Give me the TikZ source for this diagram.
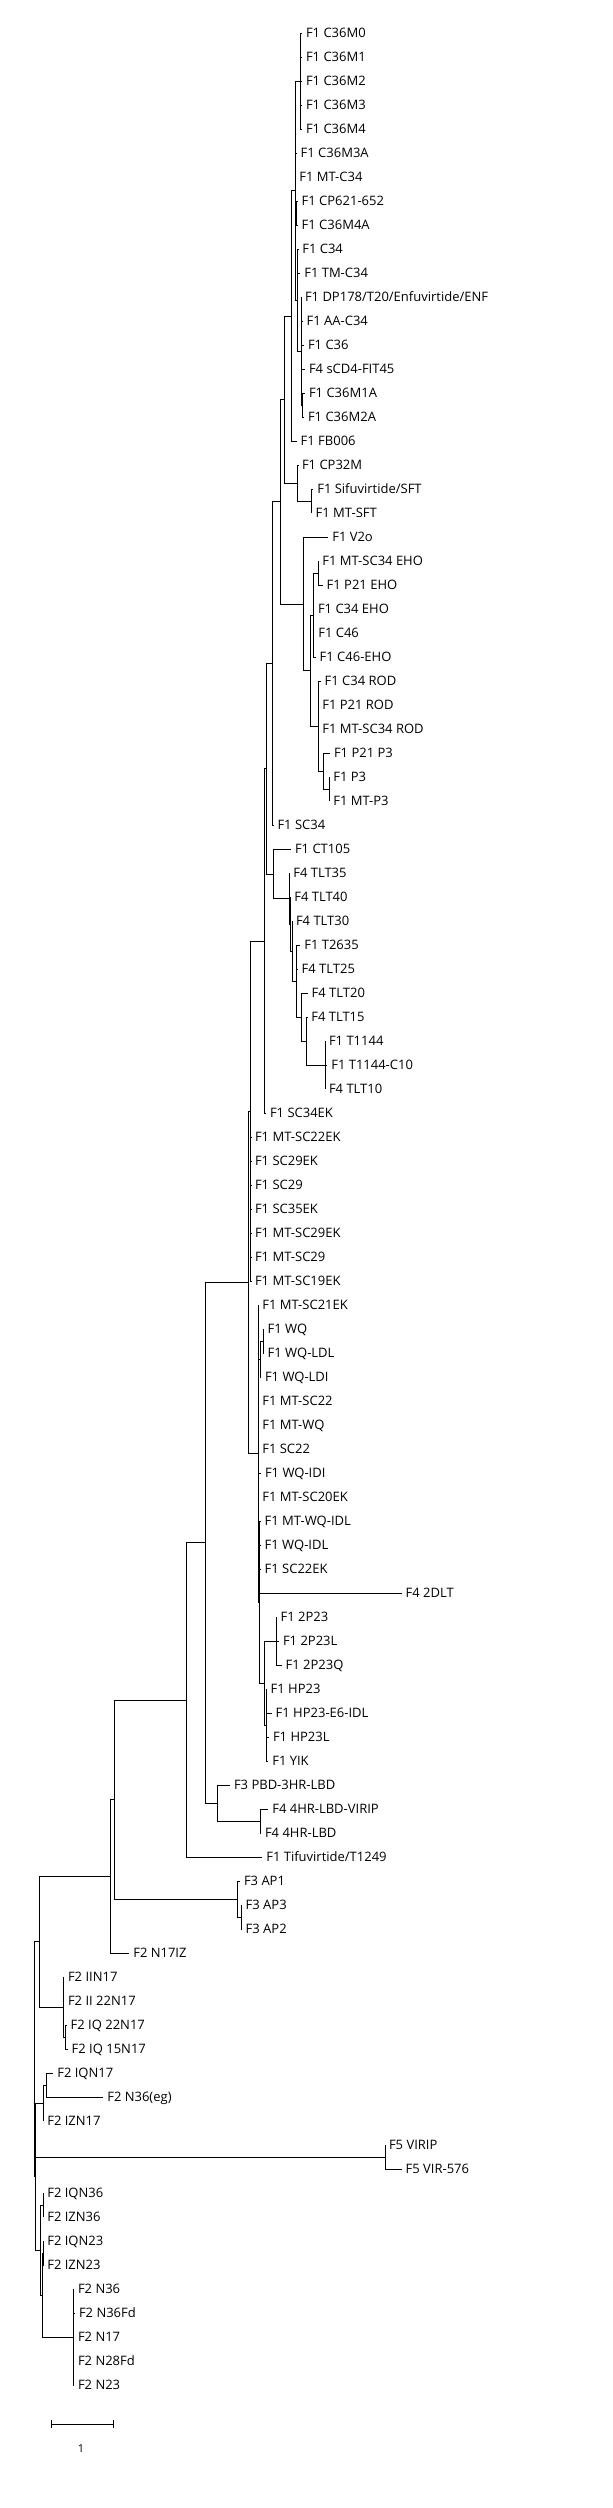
\documentclass[tikz,border=0pt]{standalone}
\usepackage{fontspec}
\newfontfamily\treefont{Open Sans}
\usepackage{tikz}
\tikzset{
  leaf/.style={anchor=west, inner xsep=2.8pt, inner ysep=0pt, text height=6.96pt, text depth=0pt, font=\treefont\fontsize{9.75}{11}\selectfont},
  branch/.style={line width=0.75pt}
}
\begin{document}
\begin{tikzpicture}[x=0.75pt,y=0.75pt,yscale=-1,xscale=1]
%set diagram to the size of the page
\useasboundingbox (0,0) rectangle (612,2508);

%Inner nodes [F1 C34/C36 group]
\coordinate (nM04) at (300.7,81.3);
\coordinate (nCP) at (296.7,213.3);
\coordinate (nM1A) at (302.3,405.3);
\coordinate (nC36) at (301,351.3);
\coordinate (nC34) at (297.7,300.3);
\coordinate (nMT) at (295.3,190.8);
\coordinate (nFB) at (291.7,316);
\coordinate (nSFT) at (311.7,501.3);
\coordinate (nCP32) at (297.7,483.3);
\coordinate (nC34a) at (284,399.7);
\coordinate (nEHOa) at (318.3,573.3);
\coordinate (nEHO) at (313.3,615.3);
\coordinate (nP3a) at (329.3,789.3);
\coordinate (nP3) at (323.3,771.3);
\coordinate (nROD) at (318.3,726.3);
\coordinate (nEHOROD) at (310.7,670.8);
\coordinate (nV2o) at (303.3,604);
\coordinate (nC34b) at (280,501.8);
\coordinate (nSC34) at (272.7,663.6);
%Inner nodes [TLT group]
\coordinate (nT1144) at (325,1065.3);
\coordinate (nTLT15) at (306.7,1041.3);
\coordinate (nTLT20) at (301,1017.3);
\coordinate (nT2635) at (296.7,981.3);
\coordinate (nTLT30) at (292,951.3);
\coordinate (nTLT40) at (290.3,924.3);
\coordinate (nTLT35) at (289.3,898.8);
\coordinate (nCT105) at (273.3,874);
\coordinate (nTLT) at (266,768.8);
\coordinate (nSC34EK) at (264,941);
%Inner nodes [SC / WQ / P23 group]
\coordinate (nSC29) at (250.7,1111.2);
\coordinate (nWQa) at (263.3,1341.3);
\coordinate (nWQ) at (260,1359.3);
\coordinate (n2P23) at (276,1641.3);
\coordinate (nHP23) at (266,1725.3);
\coordinate (nP23) at (264.3,1683.3);
\coordinate (nIDL) at (259.7,1602.3);
\coordinate (nSC22) at (258.3,1453.8);
\coordinate (nSC) at (248.3,1282.5);
%Inner nodes [lower part]
\coordinate (nLBD) at (260,1821.3);
\coordinate (nHR) at (217.3,1803.3);
\coordinate (nF1) at (205.7,1542.9);
\coordinate (nT1249) at (186.7,1700.1);
\coordinate (nAP3) at (241,1917.3);
\coordinate (nAP) at (237.7,1899.3);
\coordinate (nF13) at (114.7,1799.7);
\coordinate (nN17IZ) at (110,1876.5);
\coordinate (nIQ) at (65,2037.3);
\coordinate (nII) at (63.3,2007.3);
\coordinate (nF2a) at (39,1941.9);
\coordinate (nIQN17) at (46.7,2085.3);
\coordinate (nIZN17) at (43.3,2103.3);
\coordinate (nF5) at (385,2157.3);
\coordinate (nN36) at (43.3,2205.3);
\coordinate (nN23) at (43,2253.3);
\coordinate (nN) at (73.3,2337.3);
\coordinate (nNb) at (42,2295.3);
\coordinate (nNa) at (40,2250.3);
\coordinate (nF2b) at (35,2176.8);
\coordinate (nRoot) at (34.3,2059.4);

% Text Node
\node [leaf] (c36m0) at (302,33.3) {F1 C36M0};
\node [leaf] (c36m1) at (302,57.3) {F1 C36M1};
\node [leaf] (c36m2) at (302,81.3) {F1 C36M2};
\node [leaf] (c36m3) at (302,105.3) {F1 C36M3};
\node [leaf] (c36m4) at (302,129.3) {F1 C36M4};
\node [leaf] (c36m3a) at (296.7,153.3) {F1 C36M3A};
\node [leaf] (mtc34) at (295.3,177.3) {F1 MT-C34};
\node [leaf] (cp621) at (297.7,201.3) {F1 CP621-652};
\node [leaf] (c36m4a) at (297.7,225.3) {F1 C36M4A};
\node [leaf] (c34) at (298.3,249.3) {F1 C34};
\node [leaf] (tmc34) at (300.3,273.3) {F1 TM-C34};
\node [leaf] (dp178) at (301,297.3) {F1 DP178/T20/Enfuvirtide/ENF};
\node [leaf] (aac34) at (302.7,321.3) {F1 AA-C34};
\node [leaf] (c36) at (304,345.3) {F1 C36};
\node [leaf] (scd4) at (305,369.3) {F4 sCD4-FIT45};
\node [leaf] (c36m1a) at (305,393.3) {F1 C36M1A};
\node [leaf] (c36m2a) at (304,417.3) {F1 C36M2A};
\node [leaf] (fb006) at (296.7,441.3) {F1 FB006};
\node [leaf] (cp32m) at (298,465.3) {F1 CP32M};
\node [leaf] (sft) at (313.3,489.3) {F1 Sifuvirtide/SFT};
\node [leaf] (mtsft) at (311.7,513.3) {F1 MT-SFT};
\node [leaf] (v2o) at (328.3,537.3) {F1 V2o};
\node [leaf] (mtsc34eho) at (318.3,561.3) {F1 MT-SC34 EHO};
\node [leaf] (p21eho) at (322.7,585.3) {F1 P21 EHO};
\node [leaf] (c34eho) at (314,609.3) {F1 C34 EHO};
\node [leaf] (c46) at (314.3,633.3) {F1 C46};
\node [leaf] (c46eho) at (315.7,657.3) {F1 C46-EHO};
\node [leaf] (c34rod) at (320.7,681.3) {F1 C34 ROD};
\node [leaf] (p21rod) at (318.3,705.3) {F1 P21 ROD};
\node [leaf] (mtsc34rod) at (318.3,729.3) {F1 MT-SC34 ROD};
\node [leaf] (p21p3) at (330,753.3) {F1 P21 P3};
\node [leaf] (p3) at (329.3,777.3) {F1 P3};
\node [leaf] (mtp3) at (329.3,801.3) {F1 MT-P3};
\node [leaf] (sc34) at (273.5,825.3) {F1 SC34};
\node [leaf] (ct105) at (291,849.3) {F1 CT105};
\node [leaf] (tlt35) at (289.3,873.3) {F4 TLT35};
\node [leaf] (tlt40) at (290.3,897.3) {F4 TLT40};
\node [leaf] (tlt30) at (292,921.3) {F4 TLT30};
\node [leaf] (t2635) at (300.3,945.3) {F1 T2635};
\node [leaf] (tlt25) at (297.7,969.3) {F4 TLT25};
\node [leaf] (tlt20) at (307.7,993.3) {F4 TLT20};
\node [leaf] (tlt15) at (307.3,1017.3) {F4 TLT15};
\node [leaf] (t1144) at (325,1041.3) {F1 T1144};
\node [leaf] (t1144c10) at (327.3,1065.3) {F1 T1144-C10};
\node [leaf] (tlt10) at (325,1089.3) {F4 TLT10};
\node [leaf] (sc34ek) at (266,1113.3) {F1 SC34EK};
\node [leaf] (mtsc22ek) at (251,1137.3) {F1 MT-SC22EK};
\node [leaf] (sc29ek) at (251,1161.3) {F1 SC29EK};
\node [leaf] (sc29) at (251,1185.3) {F1 SC29};
\node [leaf] (sc35ek) at (251,1209.3) {F1 SC35EK};
\node [leaf] (mtsc29ek) at (251,1233.3) {F1 MT-SC29EK};
\node [leaf] (mtsc29) at (251,1257.3) {F1 MT-SC29};
\node [leaf] (mtsc19ek) at (251,1281.3) {F1 MT-SC19EK};
\node [leaf] (mtsc21ek) at (258.3,1305.3) {F1 MT-SC21EK};
\node [leaf] (wq) at (263.7,1329.3) {F1 WQ};
\node [leaf] (wqldl) at (263.7,1353.3) {F1 WQ-LDL};
\node [leaf] (wqldi) at (261,1377.3) {F1 WQ-LDI};
\node [leaf] (mtsc22) at (258.3,1401.3) {F1 MT-SC22};
\node [leaf] (mtwq) at (258.3,1425.3) {F1 MT-WQ};
\node [leaf] (sc22) at (258.3,1449.3) {F1 SC22};
\node [leaf] (wqidi) at (261,1473.3) {F1 WQ-IDI};
\node [leaf] (mtsc20ek) at (258.3,1497.3) {F1 MT-SC20EK};
\node [leaf] (mtwqidl) at (260.7,1521.3) {F1 MT-WQ-IDL};
\node [leaf] (wqidl) at (260.7,1545.3) {F1 WQ-IDL};
\node [leaf] (sc22ek) at (260.7,1569.3) {F1 SC22EK};
\node [leaf] (dlt) at (401.7,1593.3) {F4 2DLT};
\node [leaf] (p23) at (276.7,1617.3) {F1 2P23};
\node [leaf] (p23l) at (279,1641.3) {F1 2P23L};
\node [leaf] (p23q) at (281.7,1665.3) {F1 2P23Q};
\node [leaf] (hp23) at (266.7,1689.3) {F1 HP23};
\node [leaf] (hp23e6) at (271.7,1713.3) {F1 HP23-E6-IDL};
\node [leaf] (hp23l) at (269,1737.3) {F1 HP23L};
\node [leaf] (yik) at (268.3,1761.3) {F1 YIK};
\node [leaf] (pbd) at (230,1785.3) {F3 PBD-3HR-LBD};
\node [leaf] (lbdvirip) at (268.3,1809.3) {F4 4HR-LBD-VIRIP};
\node [leaf] (lbd) at (261,1833.3) {F4 4HR-LBD};
\node [leaf] (t1249) at (262.3,1857.3) {F1 Tifuvirtide/T1249};
\node [leaf] (ap1) at (240,1881.3) {F3 AP1};
\node [leaf] (ap3) at (241.7,1905.3) {F3 AP3};
\node [leaf] (ap2) at (241.7,1929.3) {F3 AP2};
\node [leaf] (n17iz) at (129.3,1953.3) {F2 N17IZ};
\node [leaf] (iin17) at (64,1977.3) {F2 IIN17};
\node [leaf] (ii22n17) at (64,2001.3) {F2 II 22N17};
\node [leaf] (iq22n17) at (66.7,2025.3) {F2 IQ 22N17};
\node [leaf] (iq15n17) at (67.7,2049.3) {F2 IQ 15N17};
\node [leaf] (iqn17) at (53.3,2073.3) {F2 IQN17};
\node [leaf] (n36eg) at (103.3,2097.3) {F2 N36(eg)};
\node [leaf] (izn17) at (43.3,2121.3) {F2 IZN17};
\node [leaf] (virip) at (385,2145.3) {F5 VIRIP};
\node [leaf] (vir576) at (401.7,2169.3) {F5 VIR-576};
\node [leaf] (iqn36) at (43.3,2193.3) {F2 IQN36};
\node [leaf] (izn36) at (43.3,2217.3) {F2 IZN36};
\node [leaf] (iqn23) at (43.3,2241.3) {F2 IQN23};
\node [leaf] (izn23) at (43.3,2265.3) {F2 IZN23};
\node [leaf] (n36) at (74,2289.3) {F2 N36};
\node [leaf] (n36fd) at (75,2313.3) {F2 N36Fd};
\node [leaf] (n17) at (74,2337.3) {F2 N17};
\node [leaf] (n28fd) at (74,2361.3) {F2 N28Fd};
\node [leaf] (n23) at (74,2385.3) {F2 N23};

%Straight Lines [F1 C34/C36 group]
\draw [branch] (nM04) |- (c36m0.west) (nM04) |- (c36m1.west) (nM04) |- (c36m2.west) (nM04) |- (c36m3.west) (nM04) |- (c36m4.west);
\draw [branch] (nCP) |- (cp621.west) (nCP) |- (c36m4a.west);
\draw [branch] (nM1A) |- (c36m1a.west) (nM1A) |- (c36m2a.west);
\draw [branch] (nC36) |- (dp178.west) (nC36) |- (aac34.west) (nC36) |- (c36.west) (nC36) |- (scd4.west) (nC36) |- (nM1A);
\draw [branch] (nC34) |- (c34.west) (nC34) |- (tmc34.west) (nC34) |- (nC36);
\draw [branch] (nMT) |- (nM04) (nMT) |- (c36m3a.west) (nMT) |- (mtc34.west) (nMT) |- (nCP) (nMT) |- (nC34);
\draw [branch] (nFB) |- (nMT) (nFB) |- (fb006.west);
\draw [branch] (nSFT) |- (sft.west) (nSFT) |- (mtsft.west);
\draw [branch] (nCP32) |- (cp32m.west) (nCP32) |- (nSFT);
\draw [branch] (nC34a) |- (nFB) (nC34a) |- (nCP32);
\draw [branch] (nEHOa) |- (mtsc34eho.west) (nEHOa) |- (p21eho.west);
\draw [branch] (nEHO) |- (nEHOa) (nEHO) |- (c34eho.west) (nEHO) |- (c46.west) (nEHO) |- (c46eho.west);
\draw [branch] (nP3a) |- (p3.west) (nP3a) |- (mtp3.west);
\draw [branch] (nP3) |- (p21p3.west) (nP3) |- (nP3a);
\draw [branch] (nROD) |- (c34rod.west) (nROD) |- (p21rod.west) (nROD) |- (mtsc34rod.west) (nROD) |- (nP3);
\draw [branch] (nEHOROD) |- (nEHO) (nEHOROD) |- (nROD);
\draw [branch] (nV2o) |- (v2o.west) (nV2o) |- (nEHOROD);
\draw [branch] (nC34b) |- (nC34a) (nC34b) |- (nV2o);
\draw [branch] (nSC34) |- (nC34b) (nSC34) |- (sc34.west);
%Straight Lines [TLT group]
\draw [branch] (nT1144) |- (t1144.west) (nT1144) |- (t1144c10.west) (nT1144) |- (tlt10.west);
\draw [branch] (nTLT15) |- (tlt15.west) (nTLT15) |- (nT1144);
\draw [branch] (nTLT20) |- (tlt20.west) (nTLT20) |- (nTLT15);
\draw [branch] (nT2635) |- (t2635.west) (nT2635) |- (tlt25.west) (nT2635) |- (nTLT20);
\draw [branch] (nTLT30) |- (tlt30.west) (nTLT30) |- (nT2635);
\draw [branch] (nTLT40) |- (tlt40.west) (nTLT40) |- (nTLT30);
\draw [branch] (nTLT35) |- (tlt35.west) (nTLT35) |- (nTLT40);
\draw [branch] (nCT105) |- (ct105.west) (nCT105) |- (nTLT35);
\draw [branch] (nTLT) |- (nSC34) (nTLT) |- (nCT105);
\draw [branch] (nSC34EK) |- (nTLT) (nSC34EK) |- (sc34ek.west);
%Straight Lines [SC / WQ / P23 group]
\draw [branch] (nSC29) |- (nSC34EK) (nSC29) |- (mtsc22ek.west) (nSC29) |- (sc29ek.west) (nSC29) |- (sc29.west) (nSC29) |- (sc35ek.west) (nSC29) |- (mtsc29ek.west) (nSC29) |- (mtsc29.west) (nSC29) |- (mtsc19ek.west);
\draw [branch] (nWQa) |- (wq.west) (nWQa) |- (wqldl.west);
\draw [branch] (nWQ) |- (nWQa) (nWQ) |- (wqldi.west);
\draw [branch] (n2P23) |- (p23.west) (n2P23) |- (p23l.west) (n2P23) |- (p23q.west);
\draw [branch] (nHP23) |- (hp23.west) (nHP23) |- (hp23e6.west) (nHP23) |- (hp23l.west) (nHP23) |- (yik.west);
\draw [branch] (nP23) |- (n2P23) (nP23) |- (nHP23);
\draw [branch] (nIDL) |- (mtwqidl.west) (nIDL) |- (wqidl.west) (nIDL) |- (sc22ek.west) (nIDL) |- (dlt.west) (nIDL) |- (nP23);
\draw [branch] (nSC22) |- (mtsc21ek.west) (nSC22) |- (nWQ) (nSC22) |- (mtsc22.west) (nSC22) |- (mtwq.west) (nSC22) |- (sc22.west) (nSC22) |- (wqidi.west) (nSC22) |- (mtsc20ek.west) (nSC22) |- (nIDL);
\draw [branch] (nSC) |- (nSC29) (nSC) |- (nSC22);
%Straight Lines [lower part]
\draw [branch] (nLBD) |- (lbdvirip.west) (nLBD) |- (lbd.west);
\draw [branch] (nHR) |- (pbd.west) (nHR) |- (nLBD);
\draw [branch] (nF1) |- (nSC) (nF1) |- (nHR);
\draw [branch] (nT1249) |- (nF1) (nT1249) |- (t1249.west);
\draw [branch] (nAP3) |- (ap3.west) (nAP3) |- (ap2.west);
\draw [branch] (nAP) |- (ap1.west) (nAP) |- (nAP3);
\draw [branch] (nF13) |- (nT1249) (nF13) |- (nAP);
\draw [branch] (nN17IZ) |- (nF13) (nN17IZ) |- (n17iz.west);
\draw [branch] (nIQ) |- (iq22n17.west) (nIQ) |- (iq15n17.west);
\draw [branch] (nII) |- (iin17.west) (nII) |- (ii22n17.west) (nII) |- (nIQ);
\draw [branch] (nF2a) |- (nN17IZ) (nF2a) |- (nII);
\draw [branch] (nIQN17) |- (iqn17.west) (nIQN17) |- (n36eg.west);
\draw [branch] (nIZN17) |- (nIQN17) (nIZN17) |- (izn17.west);
\draw [branch] (nF5) |- (virip.west) (nF5) |- (vir576.west);
\draw [branch] (nN36) |- (iqn36.west) (nN36) |- (izn36.west);
\draw [branch] (nN23) |- (iqn23.west) (nN23) |- (izn23.west);
\draw [branch] (nN) |- (n36.west) (nN) |- (n36fd.west) (nN) |- (n17.west) (nN) |- (n28fd.west) (nN) |- (n23.west);
\draw [branch] (nNb) |- (nN23) (nNb) |- (nN);
\draw [branch] (nNa) |- (nN36) (nNa) |- (nNb);
\draw [branch] (nF2b) |- (nIZN17) (nF2b) |- (nF5) (nF2b) |- (nNa);
\draw [branch] (nRoot) |- (nF2a) (nRoot) |- (nF2b);

%Scale bar
\coordinate (sbL) at (51.7,2424);
\coordinate (sbR) at (113.3,2424);
\draw [branch] (sbL) -- (sbR);
\draw [branch] ([yshift=3pt]sbL) -- ([yshift=-3pt]sbL);
\draw [branch] ([yshift=3pt]sbR) -- ([yshift=-3pt]sbR);
% Text Node
\node [font=\treefont\fontsize{8.2}{10}\selectfont, inner sep=0pt] (sbLabel) at (81,2449) {1};
\end{tikzpicture}
\end{document}
